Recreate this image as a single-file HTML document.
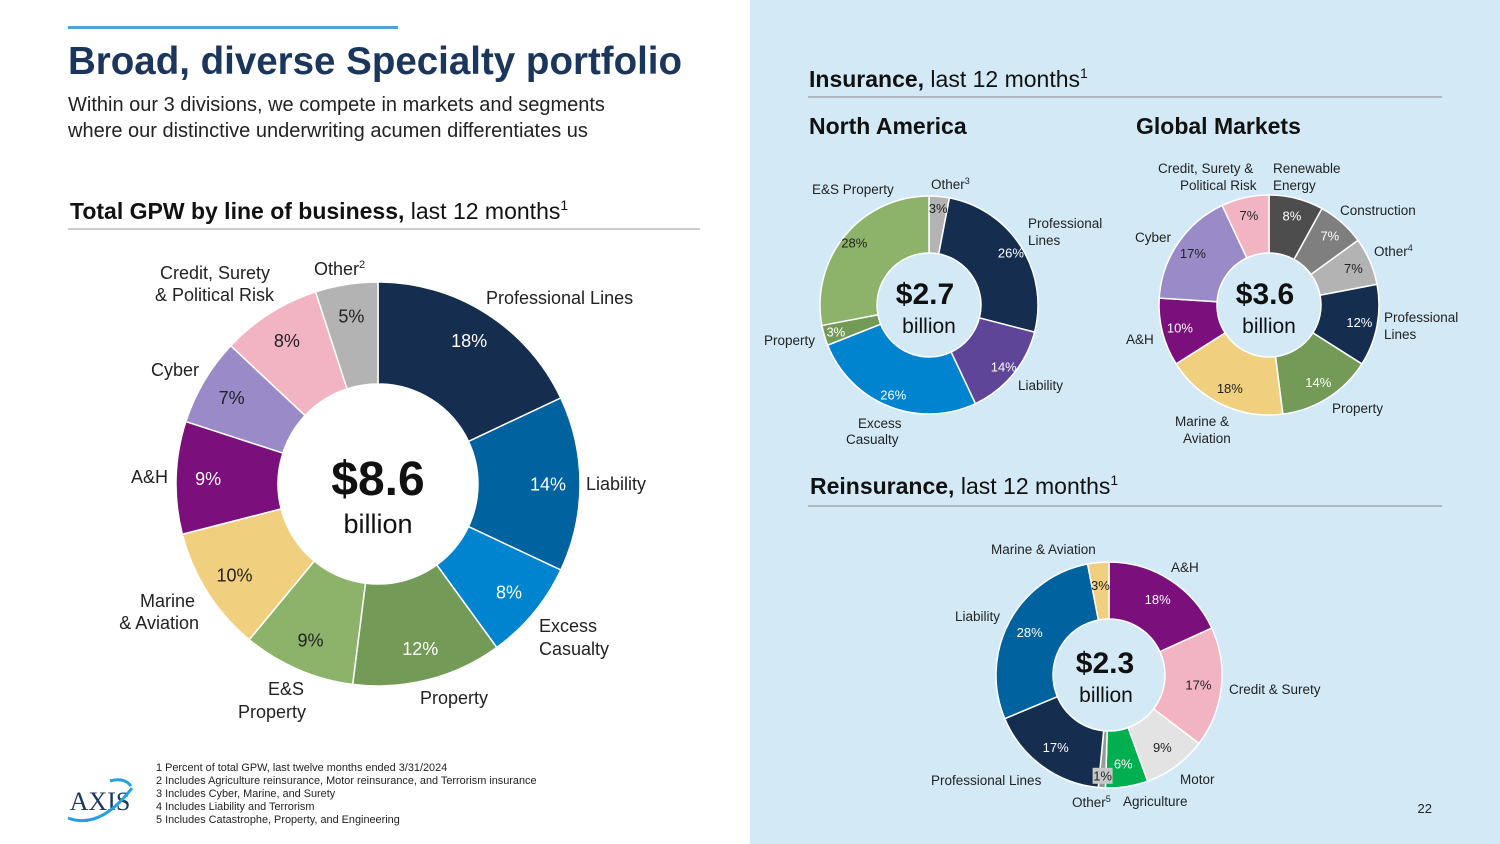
<!DOCTYPE html>
<html><head><meta charset="utf-8"><style>
html,body{margin:0;padding:0;width:1500px;height:844px;overflow:hidden;background:#fff;font-family:"Liberation Sans",sans-serif}
svg text{font-family:"Liberation Sans",sans-serif}
</style></head><body>
<svg id="s" width="1500" height="844" viewBox="0 0 1500 844" xmlns="http://www.w3.org/2000/svg">
<rect x="750" y="0" width="750" height="844" fill="#d3eaf6"/>
<rect x="68" y="26" width="330" height="3" fill="#4ba3dc"/>
<text x="68" y="74" font-size="38.5" font-weight="bold" fill="#1b365d">Broad, diverse Specialty portfolio</text>
<text x="68" y="111" font-size="20" fill="#222">Within our 3 divisions, we compete in markets and segments</text>
<text x="68" y="137" font-size="20" fill="#222">where our distinctive underwriting acumen differentiates us</text>
<text x="70" y="219" font-size="23" fill="#111"><tspan font-weight="bold">Total GPW by line of business,</tspan> last 12 months<tspan font-size="14" dy="-9">1</tspan></text>
<line x1="68" y1="229" x2="700" y2="229" stroke="#999" stroke-width="1"/>
<g id="main"></g>
<text x="378" y="495" font-size="48" font-weight="bold" fill="#111" text-anchor="middle">$8.6</text>
<text x="378" y="533" font-size="27" fill="#111" text-anchor="middle">billion</text>
<g font-size="18" fill="#222">
<text x="486" y="304">Professional Lines</text>
<text x="586" y="490">Liability</text>
<text x="539" y="632">Excess</text><text x="539" y="655">Casualty</text>
<text x="420" y="704">Property</text>
<text x="286" y="695" text-anchor="middle">E&amp;S</text><text x="272" y="718" text-anchor="middle">Property</text>
<text x="195" y="607" text-anchor="end">Marine</text><text x="199" y="629" text-anchor="end">&amp; Aviation</text>
<text x="131" y="483">A&amp;H</text>
<text x="151" y="376">Cyber</text>
<text x="160" y="279">Credit, Surety</text><text x="155" y="301">&amp; Political Risk</text>
<text x="314" y="275">Other<tspan font-size="11" dy="-7">2</tspan></text>
</g>
<text x="809" y="87" font-size="23" fill="#111"><tspan font-weight="bold">Insurance,</tspan> last 12 months<tspan font-size="14" dy="-9">1</tspan></text>
<line x1="808" y1="97" x2="1442" y2="97" stroke="#888"/>
<text x="809" y="134" font-size="23" font-weight="bold" fill="#111">North America</text>
<text x="1136" y="134" font-size="23" font-weight="bold" fill="#111">Global Markets</text>
<g id="na"></g><g id="gm"></g><g id="re"></g>
<text x="925" y="304" font-size="30" font-weight="bold" fill="#111" text-anchor="middle">$2.7</text>
<text x="929" y="333" font-size="21" fill="#111" text-anchor="middle">billion</text>
<text x="1265" y="304" font-size="30" font-weight="bold" fill="#111" text-anchor="middle">$3.6</text>
<text x="1269" y="333" font-size="21" fill="#111" text-anchor="middle">billion</text>
<text x="1105" y="673" font-size="30" font-weight="bold" fill="#111" text-anchor="middle">$2.3</text>
<text x="1106" y="702" font-size="21" fill="#111" text-anchor="middle">billion</text>
<g font-size="13.5" fill="#222">
<text x="812" y="194">E&amp;S Property</text>
<text x="931" y="189">Other<tspan font-size="9" dy="-5">3</tspan></text>
<text x="1028" y="228">Professional</text><text x="1028" y="245">Lines</text>
<text x="1018" y="390">Liability</text>
<text x="858" y="428">Excess</text><text x="846" y="444">Casualty</text>
<text x="764" y="345">Property</text>
</g>
<g font-size="13.5" fill="#222">
<text x="1158" y="173">Credit, Surety &amp;</text><text x="1180" y="190">Political Risk</text>
<text x="1273" y="173">Renewable</text><text x="1273" y="190">Energy</text>
<text x="1340" y="215">Construction</text>
<text x="1374" y="256">Other<tspan font-size="9" dy="-5">4</tspan></text>
<text x="1384" y="322">Professional</text><text x="1384" y="339">Lines</text>
<text x="1332" y="413">Property</text>
<text x="1175" y="426">Marine &amp;</text><text x="1183" y="443">Aviation</text>
<text x="1126" y="344">A&amp;H</text>
<text x="1135" y="242">Cyber</text>
</g>
<text x="810" y="494" font-size="23" fill="#111"><tspan font-weight="bold">Reinsurance,</tspan> last 12 months<tspan font-size="14" dy="-9">1</tspan></text>
<line x1="808" y1="506" x2="1442" y2="506" stroke="#888"/>
<g font-size="13.5" fill="#222">
<text x="991" y="554">Marine &amp; Aviation</text>
<text x="1171" y="572">A&amp;H</text>
<text x="955" y="621">Liability</text>
<text x="1229" y="694">Credit &amp; Surety</text>
<text x="1180" y="784">Motor</text>
<text x="931" y="785">Professional Lines</text>
<text x="1123" y="806">Agriculture</text>
<text x="1072" y="807">Other<tspan font-size="9" dy="-5">5</tspan></text>
</g>
<text x="1432" y="813" font-size="13" fill="#222" text-anchor="end">22</text>
<g>
<text x="100" y="810" font-size="26" fill="#1b365d" text-anchor="middle" style="font-family:'Liberation Serif',serif">AXIS</text>
<path d="M68 818 Q100 830 132 788" fill="none" stroke="#2a9fe0" stroke-width="3"/>
<path d="M110 781 Q124 777 131 786" fill="none" stroke="#2a9fe0" stroke-width="3"/>
</g>
<g font-size="10.9" fill="#222">
<text x="156" y="771">1  Percent of total GPW, last twelve months ended 3/31/2024</text>
<text x="156" y="784">2  Includes Agriculture reinsurance, Motor reinsurance, and Terrorism insurance</text>
<text x="156" y="797">3  Includes Cyber, Marine, and Surety</text>
<text x="156" y="810">4  Includes Liability and Terrorism</text>
<text x="156" y="823">5  Includes Catastrophe, Property, and Engineering</text>
</g>
</svg>
<script>
const mainCats=["Professional Lines","Liability","Excess Casualty","Property","E&S Property","Marine & Aviation","A&H","Cyber","Credit, Surety & Political Risk","Other"];
const mainVals=[18,14,8,12,9,10,9,7,8,5];
const naCats=["Other","Professional Lines","Liability","Excess Casualty","Property","E&S Property"];
const naVals=[3,26,14,26,3,28];
const gmCats=["Renewable Energy","Construction","Other","Professional Lines","Property","Marine & Aviation","A&H","Cyber","Credit, Surety & Political Risk"];
const gmVals=[8,7,7,12,14,18,10,17,7];
const reCats=["A&H","Credit & Surety","Motor","Agriculture","Other","Professional Lines","Liability","Marine & Aviation"];
const reVals=[18,17,9,6,1,17,28,3];

const NS="http://www.w3.org/2000/svg";
function donut(gid,name,cats,vals,cx,cy,ro,ri,colors,tcols,fs,pr){
  const g=document.getElementById(gid);
  const tot=vals.reduce((a,b)=>a+b,0);
  const p=(r,a)=>[cx+r*Math.sin(a),cy-r*Math.cos(a)];
  let a0=0;
  const mids=[];
  vals.forEach((v,i)=>{
    const a1=a0+v/tot*2*Math.PI;
    const [x1,y1]=p(ro,a0),[x2,y2]=p(ro,a1),[x3,y3]=p(ri,a1),[x4,y4]=p(ri,a0);
    const lg=(a1-a0)>Math.PI?1:0;
    const path=document.createElementNS(NS,"path");
    path.setAttribute("d",`M${x1} ${y1}A${ro} ${ro} 0 ${lg} 1 ${x2} ${y2}L${x3} ${y3}A${ri} ${ri} 0 ${lg} 0 ${x4} ${y4}Z`);
    path.setAttribute("fill",colors[i]);
    path.setAttribute("stroke","#fff");
    path.setAttribute("stroke-width","1.5");
    
    
    g.appendChild(path);
    mids.push((a0+a1)/2);
    a0=a1;
  });
  vals.forEach((v,i)=>{
    const small=v/tot<0.02;
    const rr=small?ro-12:pr;
    const [tx,ty]=p(rr,mids[i]);
    if(small){
      const bx=document.createElementNS(NS,"rect");
      bx.setAttribute("x",tx-10);bx.setAttribute("y",ty-8);
      bx.setAttribute("width",20);bx.setAttribute("height",16);
      bx.setAttribute("fill","#c8c8c8");
      
      
      g.appendChild(bx);
    }
    const t=document.createElementNS(NS,"text");
    t.setAttribute("x",tx);t.setAttribute("y",ty+fs*0.35);
    t.setAttribute("text-anchor","middle");t.setAttribute("font-size",fs);
    t.setAttribute("fill",tcols[i]);
    t.textContent=v+"%";
    
    
    g.appendChild(t);
  });
}
donut("main","main",mainCats,mainVals,378,484,202,100,
 ["#152d4f","#00629e","#0084cf","#739a57","#8cb369","#f0cf7e","#7b0f7b","#9b8ac8","#f2b4c3","#b3b3b3"],
 ["#fff","#fff","#fff","#fff","#222","#222","#fff","#222","#222","#222"],18,170);
donut("na","na",naCats,naVals,929,305,109,52,
 ["#b3b3b3","#152d4f","#5e4597","#0084cf","#739a57","#8cb369"],
 ["#222","#fff","#fff","#fff","#fff","#222"],13,97);
donut("gm","gm",gmCats,gmVals,1269,305,110,52,
 ["#4d4d4d","#7f7f7f","#b3b3b3","#152d4f","#739a57","#f0cf7e","#7b0f7b","#9b8ac8","#f2b4c3"],
 ["#fff","#fff","#222","#fff","#fff","#222","#fff","#222","#222"],13,92);
donut("re","re",reCats,reVals,1109,675,113,56,
 ["#7b0f7b","#f2b4c3","#e3e3e3","#00b050","#9a9a9a","#152d4f","#00629e","#f0cf7e"],
 ["#fff","#222","#222","#fff","#222","#fff","#fff","#222"],13,90);
</script>
</body></html>
